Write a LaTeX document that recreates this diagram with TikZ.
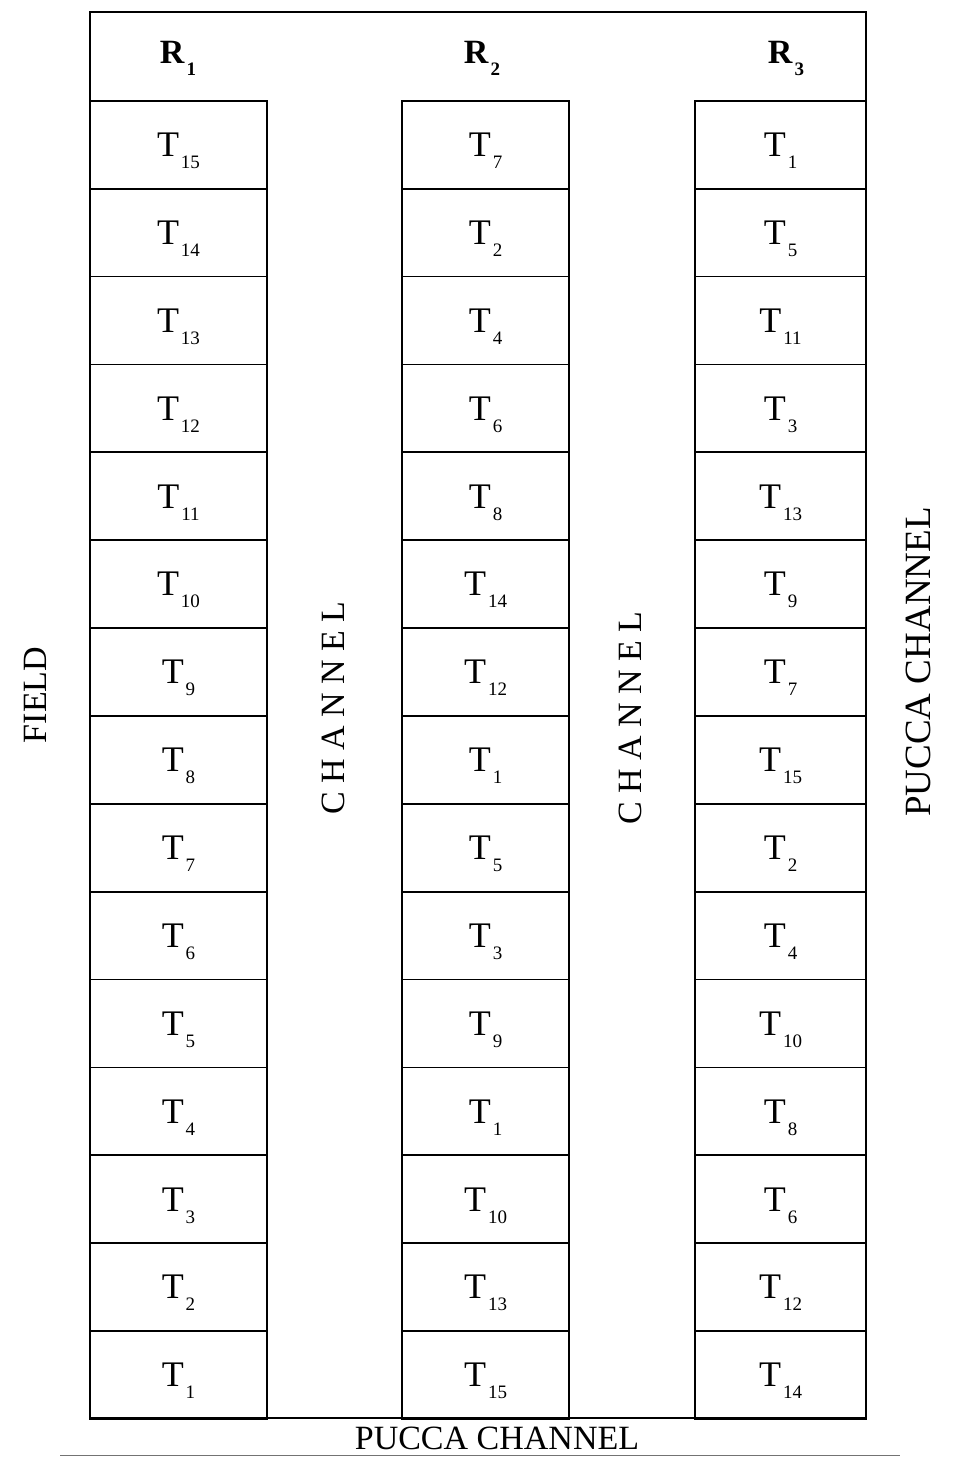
\documentclass[tikz,border=0pt]{standalone}
\usepackage{fontspec}
\setmainfont{Liberation Serif}
\usetikzlibrary{positioning}
\newcommand{\tsub}[2]{#1\kern2pt\raisebox{-12pt}[0pt][0pt]{\fontsize{19}{19}\selectfont #2}}

\begin{document}
\begin{tikzpicture}[x=1pt,y=-1pt,line width=1.7pt,
  plot/.style={draw,anchor=north,minimum height=87.87pt,inner sep=0pt,font=\fontsize{36}{36}\selectfont},
  lbl/.style={inner sep=0pt,font=\fontsize{34}{34}\selectfont}]
  \useasboundingbox (0,0) rectangle (953,1457);
  \draw (90,12) rectangle (866,1418);
  % replications
  \node[lbl,font=\bfseries\fontsize{34}{34}\selectfont] (r1) at (178,52) {\tsub{R}{1}};
  \node[lbl,font=\bfseries\fontsize{34}{34}\selectfont] (r2) at (482,52) {\tsub{R}{2}};
  \node[lbl,font=\bfseries\fontsize{34}{34}\selectfont] (r3) at (786,52) {\tsub{R}{3}};
  \foreach \t [count=\i] in {15,14,13,12,11,10,9,8,7,6,5,4,3,2,1}
    \node[plot,minimum width=177pt] (a\i) at (178.5,{100+(\i-1)*87.87}) {\tsub{T}{\t}};
  \foreach \t [count=\i] in {7,2,4,6,8,14,12,1,5,3,9,1,10,13,15}
    \node[plot,minimum width=167pt] (b\i) at (485.5,{100+(\i-1)*87.87}) {\tsub{T}{\t}};
  \foreach \t [count=\i] in {1,5,11,3,13,9,7,15,2,4,10,8,6,12,14}
    \node[plot,minimum width=171pt] (c\i) at (780.5,{100+(\i-1)*87.87}) {\tsub{T}{\t}};
  % surroundings
  \node[lbl,rotate=90] (field) at (35,695) {FIELD};
  \node[lbl,rotate=90] (ch1) at (333,708) {C H A N N E L};
  \node[lbl,rotate=90] (ch2) at (630,718) {C H A N N E L};
  \node[lbl,rotate=90,font=\fontsize{37}{37}\selectfont] (pucca) at (918,662) {PUCCA CHANNEL};
  \node[lbl] (puccab) at (497,1438) {PUCCA CHANNEL};
  \draw[line width=1pt,black!55] (60,1455) -- (900,1455);
\end{tikzpicture}
\end{document}
